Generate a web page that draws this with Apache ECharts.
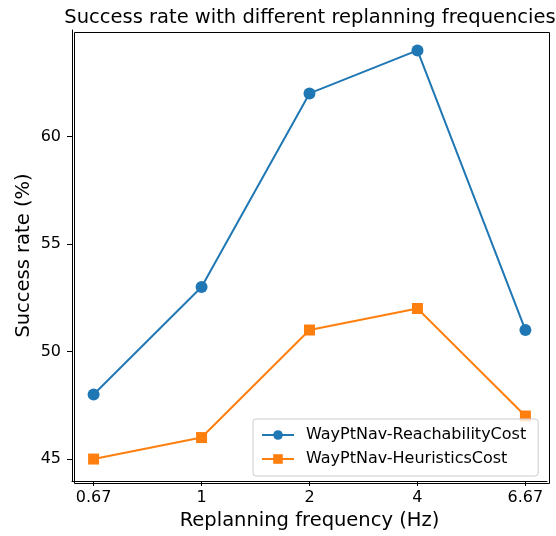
<!DOCTYPE html>
<html style="height: 100%">
    <head>
        <meta charset="utf-8">
        <script src="https://cdn.jsdelivr.net/npm/echarts@6/dist/echarts.min.js"></script>
        <title>Success rate with different replanning frequencies</title>
    </head>
    <body style="height: 100%; margin: 0; background: #fff">
        <div id="container" style="width: 556px; height: 536px"></div>
        <script type="text/javascript">
            // replanning frequencies (Hz), drawn at evenly spaced positions
            const frequencies = ['0.67', '1', '2', '4', '6.67'];
            const reachability = [48, 53, 62, 64, 51];
            const heuristics = [45, 46, 51, 52, 47];
            const yTicks = [45, 50, 55, 60];

            const font = 'DejaVu Sans';
            const toPoints = vals => vals.map((v, i) => [i, v]);
            const xTicks = frequencies.map((f, i) => i);

            let chart = echarts.init(document.getElementById('container'));
            chart.setOption({
                animation: false,
                title: {
                    text: 'Success rate with different replanning frequencies',
                    left: 305, top: 3, textAlign: 'center',
                    textStyle: { fontFamily: font, fontSize: 19.5, fontWeight: 'normal', color: '#000' }
                },
                grid: { left: 72, right: 9, top: 30, bottom: 55, outerBoundsMode: 'none' },
                legend: {
                    orient: 'vertical',
                    left: 253, top: 419,
                    padding: [8, 12, 9, 8],
                    itemGap: 8,
                    itemWidth: 32, itemHeight: 12,
                    backgroundColor: 'rgba(255,255,255,0.8)',
                    borderColor: '#ccc', borderWidth: 1, borderRadius: 3,
                    textStyle: { fontFamily: font, fontSize: 16, color: '#000', padding: [0, 0, 0, 7] },
                    data: ['WayPtNav-ReachabilityCost', 'WayPtNav-HeuristicsCost']
                },
                xAxis: {
                    type: 'value',
                    min: -0.2, max: 4.2,
                    name: 'Replanning frequency (Hz)',
                    nameLocation: 'middle', nameGap: 30,
                    nameTextStyle: { fontFamily: font, fontSize: 19.5, color: '#000' },
                    axisLine: { onZero: false, lineStyle: { color: '#000', width: 1 } },
                    axisTick: { show: true, length: 5, customValues: xTicks, lineStyle: { color: '#000' } },
                    axisLabel: {
                        customValues: xTicks,
                        formatter: v => frequencies[Math.round(v)],
                        fontFamily: font, fontSize: 16, color: '#000', margin: 9
                    },
                    splitLine: { show: false }
                },
                yAxis: {
                    type: 'value',
                    min: 43.98, max: 64.95,
                    name: 'Success rate (%)',
                    nameLocation: 'middle', nameGap: 38,
                    nameMoveOverlap: false,
                    nameTextStyle: { fontFamily: font, fontSize: 19.5, color: '#000' },
                    axisLine: { show: true, onZero: false, lineStyle: { color: '#000', width: 1 } },
                    axisTick: { show: true, length: 5, customValues: yTicks, lineStyle: { color: '#000' } },
                    axisLabel: {
                        customValues: yTicks,
                        fontFamily: font, fontSize: 16, color: '#000', margin: 11
                    },
                    splitLine: { show: false }
                },
                // top and right frame lines
                graphic: [
                    { type: 'rect', left: 72, top: 30, z: 0, silent: true,
                      shape: { width: 475, height: 451 },
                      style: { fill: 'none', stroke: '#000', lineWidth: 1 } }
                ],
                series: [
                    {
                        name: 'WayPtNav-ReachabilityCost',
                        type: 'line',
                        data: toPoints(reachability),
                        symbol: 'circle', symbolSize: 12,
                        color: '#1f77b4',
                        lineStyle: { width: 2 }
                    },
                    {
                        name: 'WayPtNav-HeuristicsCost',
                        type: 'line',
                        data: toPoints(heuristics),
                        symbol: 'rect', symbolSize: 11,
                        color: '#ff7f0e',
                        lineStyle: { width: 2 }
                    }
                ]
            });
        </script>
    </body>
</html>
